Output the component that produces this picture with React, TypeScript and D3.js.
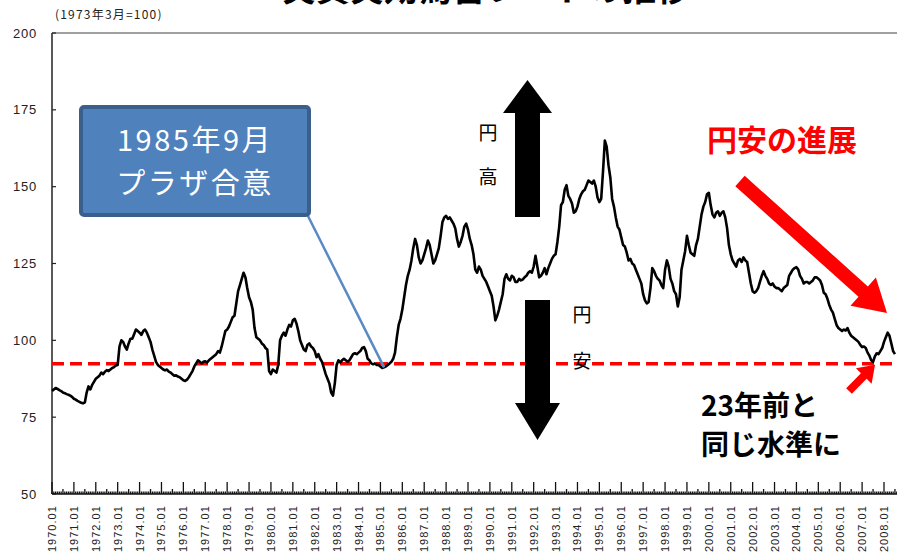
import React from "react";
import * as d3 from "d3";

// Real effective exchange rate of the yen, monthly, 1973.03 = 100
const values1970s = [
  83.5, 84, 84.5, 84.2, 83.8, 83.5, 83, 82.8, 82.5, 82.3, 82, 81.6,
  81, 80.7, 80.3, 80, 79.7, 79.5, 79.8, 83, 85, 84, 85.5, 86.5,
  87.5, 88, 88.5, 89.5, 89, 89.8, 90.3, 90, 90.5, 91, 91.3, 91.8,
  92, 98, 100, 99.5, 98, 97, 99, 100.5, 100.5, 102, 103.5, 103,
  102.5, 101.8, 103, 103.5, 102.5, 101, 99.5, 97, 95, 93, 92, 91.5,
  91, 90.5, 90.2, 90.5, 89.8, 89.5, 89, 88.5, 88.6, 88.2, 88, 87.5,
  87, 86.8, 87.2, 88, 89, 90, 91.5, 92.5, 93.5, 93, 92.5, 93,
  93.2, 92.8, 93.5, 94, 94.5, 95, 95.5, 96.5, 96, 98, 100.5, 103,
  103.5, 104.5, 106, 107.5, 108, 112, 116, 118, 120, 122, 120.5, 117,
  114, 112.5, 110, 104, 101, 100.5, 100, 99, 98.5, 97.5, 97, 90,
];
const values1980s = [
  89, 90.5, 90, 89.5, 92, 100, 101.5, 102.5, 101.5, 103.5, 105, 104.5,
  106.5, 107, 105.5, 103, 100, 98.5, 97, 96.5, 98.5, 99, 98, 97.5,
  96.5, 94.5, 95.5, 94, 93, 91, 89, 87.5, 86, 83, 82, 86,
  92, 93.5, 92.8, 93.5, 94, 93.5, 93, 93.5, 94.5, 95.5, 95.8, 95.5,
  96, 96.5, 97.5, 97.8, 96.5, 94, 93.5, 92.5, 92.2, 92.5, 92, 92,
  91.5, 91, 91.2, 91.5, 92, 92.5, 93, 94, 96, 101, 105, 107,
  110, 114, 118, 121, 123, 126, 130, 133, 131, 127, 125, 126,
  128, 130, 132.5, 131, 128, 125, 126, 128, 130, 134, 138.5, 140,
  140.5, 139.5, 140, 139, 138, 136.5, 133, 130.5, 132, 134, 137, 138,
  136, 133, 131, 128, 123, 122, 124, 123, 121, 120, 119, 117.5,
];
const values1990s = [
  116, 114.5, 111, 106.5, 108, 110, 112.5, 115, 120, 121.5, 120, 119.5,
  121, 120.5, 119, 119, 120, 119.5, 119.8, 120.5, 121, 122, 122.5, 122,
  124, 127.5, 124, 120.5, 121, 122, 123.5, 121.5, 123.5, 125, 126.5, 127.5,
  128, 132, 137, 144, 145, 149, 150.5, 147, 146, 144.5, 141.5, 142,
  143.5, 146, 147.5, 148.5, 149, 150.5, 152, 151.5, 151, 152, 150, 146.5,
  145, 146, 155, 165, 163, 157, 153, 146, 143.5, 140, 137, 136,
  133.5, 131, 130.5, 128.5, 126, 126.5, 125, 124.5, 123, 121.5, 120, 118.5,
  115, 113, 112, 112.5, 117, 123.5, 122.5, 121, 120, 119.5, 118, 117,
  123, 126, 124, 120, 118.5, 116, 115, 111, 114, 123, 126, 129,
  134, 131, 128.5, 128, 127.5, 131, 133, 137, 141, 143.5, 145, 147.5,
];
const values2000s = [
  148, 144, 141, 140, 141.5, 142, 140.5, 141.5, 142, 140, 136.5, 131,
  128, 126, 125, 124, 126, 126.5, 125.5, 127, 126, 125.5, 122, 118.5,
  116, 115.5, 116, 117, 119, 121, 122.5, 121, 120, 118.5, 118, 118.5,
  117.5, 117, 117, 116.5, 116, 117, 117.5, 118, 121, 122, 123, 123.5,
  123.8, 123, 121, 120, 118.5, 119, 119, 118.5, 119, 119.5, 120.5, 120.5,
  120, 119.5, 118, 115.5, 115, 113.5, 111.5, 110, 109, 107, 105, 104,
  103.5, 103, 103.5, 103.2, 104, 102.5, 101.5, 101, 100.5, 100, 99.5, 98.5,
  97.8, 98, 97.5, 96, 95, 93.5, 93, 94.8, 95.8, 95.5, 96.5, 97.5,
  99.5, 101, 102.5, 101.5, 99, 96.5, 95.5,
];

const startYear = 1970;
const yearLabels = d3.range(1970, 2009).map((y) => `${y}.01`);
const yTicks = [50, 75, 100, 125, 150, 175, 200];
const referenceLevel = 92.4;

const titleText = "実質実効為替レートの推移";
const unitText = "(1973年3月=100)";
const plazaLines = ["1985年9月", "プラザ合意"];
const plazaMonth = 1985 * 12 + 2; // curve touch point used by callout
const depreciationText = "円安の進展";
const sameLevelLines = ["23年前と", "同じ水準に"];
const upLabel = ["円", "高"];
const downLabel = ["円", "安"];

const series = [...values1970s, ...values1980s, ...values1990s, ...values2000s];

const fontJP = "'Noto Sans CJK JP', 'Noto Sans', sans-serif";
const fontSans = "'Liberation Sans', Arial, sans-serif";

function arrowPoints(x1: number, y1: number, x2: number, y2: number, shaftW: number, headW: number, headL: number) {
  const dx = x2 - x1;
  const dy = y2 - y1;
  const len = Math.hypot(dx, dy);
  const ux = dx / len;
  const uy = dy / len;
  const px = -uy;
  const py = ux;
  const bx = x2 - ux * headL;
  const by = y2 - uy * headL;
  const pts = [
    [x1 + px * shaftW / 2, y1 + py * shaftW / 2],
    [bx + px * shaftW / 2, by + py * shaftW / 2],
    [bx + px * headW / 2, by + py * headW / 2],
    [x2, y2],
    [bx - px * headW / 2, by - py * headW / 2],
    [bx - px * shaftW / 2, by - py * shaftW / 2],
    [x1 - px * shaftW / 2, y1 - py * shaftW / 2],
  ];
  return pts.map((p) => p.join(",")).join(" ");
}

export default function App() {
  const W = 897;
  const H = 555;
  const left = 52;
  const top = 33;
  const bottom = 494;

  const x = d3.scaleLinear().domain([0, 456]).range([left, 884]);
  const y = d3.scaleLinear().domain([50, 200]).range([bottom, top]);

  const line = d3
    .line<number>()
    .x((_, i) => x(i))
    .y((d) => y(d));

  const monthTicks = d3.range(0, series.length + 1);

  const plazaIdx = plazaMonth - startYear * 12;
  const plazaX = x(plazaIdx);
  const plazaY = y(series[plazaIdx]);

  const refY = y(referenceLevel);

  // minimum in 2007 for the small arrow
  const minIdx = d3.minIndex(series.slice(444), (d) => d) + 444;

  return (
    <svg width={W} height={H} style={{ position: "absolute", left: 0, top: 0, background: "#fff" }}>
      <rect x={0} y={0} width={W} height={H} fill="#fff" />
      {/* title (clipped at top) */}
      <text x={282} y={1} fontFamily={fontJP} fontWeight="bold" fontSize={34} fill="#000">
        {titleText}
      </text>
      <text x={55} y={19} fontFamily={fontJP} fontSize={12} letterSpacing={1.2} fill="#222">
        {unitText}
      </text>

      {/* frame */}
      <line x1={left} x2={W} y1={top} y2={top} stroke="#a0a0a0" strokeWidth={2} />
      <line x1={left} x2={left} y1={top} y2={bottom} stroke="#222" strokeWidth={1.5} />
      <line x1={left} x2={W} y1={bottom} y2={bottom} stroke="#111" strokeWidth={1.5} />

      {/* y ticks */}
      {yTicks.map((t) => (
        <g key={t}>
          <line x1={left} x2={left + 4} y1={y(t)} y2={y(t)} stroke="#222" strokeWidth={1.2} />
          <text x={37} y={y(t)} dy="0.35em" textAnchor="end" fontFamily={fontSans} fontSize={13} letterSpacing={0.8} fill="#222">
            {t}
          </text>
        </g>
      ))}

      {/* x minor/major ticks */}
      {monthTicks.map((m) => {
        const len = m % 12 === 0 ? 12 : m % 6 === 0 ? 5 : 2.5;
        return (
          <line key={m} x1={x(m)} x2={x(m)} y1={bottom} y2={bottom - len} stroke="#111" strokeWidth={1.3} />
        );
      })}
      {yearLabels.map((lab, i) => (
        <text
          key={lab}
          transform={`translate(${x(i * 12) + 4},${552}) rotate(-90)`}
          fontFamily={fontSans}
          fontSize={11}
          letterSpacing={1}
          fill="#222"
        >
          {lab}
        </text>
      ))}

      {/* reference dashed line */}
      <line x1={left} x2={W} y1={refY} y2={refY} stroke="#ff0000" strokeWidth={3.5} strokeDasharray="12,6" />

      {/* series */}
      <path d={line(series) ?? ""} fill="none" stroke="#000" strokeWidth={2.6} strokeLinejoin="round" />

      {/* Plaza callout */}
      <line x1={307} y1={214} x2={plazaX} y2={plazaY} stroke="#5a8ac6" strokeWidth={2.5} />
      <rect x={81} y={107} width={228} height={108} rx={3} fill="#4f81bd" stroke="#3a5f8b" strokeWidth={4} />
      {plazaLines.map((t, i) => (
        <text key={t} x={195} y={151 + i * 43} textAnchor="middle" fontFamily={fontJP} fontSize={29} letterSpacing={2.5} fill="#fff">
          {t}
        </text>
      ))}

      {/* black arrows */}
      <polygon points={arrowPoints(527.5, 217, 527.5, 80, 25, 49, 33)} fill="#000" />
      <polygon points={arrowPoints(537.5, 300, 537.5, 440, 25, 45, 37)} fill="#000" />
      {upLabel.map((t, i) => (
        <text key={"u" + i} x={488} y={140 + i * 44} textAnchor="middle" fontFamily={fontJP} fontSize={19} fill="#000">
          {t}
        </text>
      ))}
      {downLabel.map((t, i) => (
        <text key={"d" + i} x={582} y={322 + i * 46} textAnchor="middle" fontFamily={fontJP} fontSize={19} fill="#000">
          {t}
        </text>
      ))}

      {/* red annotation */}
      <text x={782} y={151} textAnchor="middle" fontFamily={fontJP} fontWeight="bold" fontSize={30} fill="#ff0000">
        {depreciationText}
      </text>
      <polygon points={arrowPoints(740, 181, 887, 313, 14, 38, 32)} fill="#ff0000" />
      <polygon points={arrowPoints(849, 391, x(minIdx) + 2, refY + 1, 8, 22, 16)} fill="#ff0000" />

      {sameLevelLines.map((t, i) => (
        <text key={t} x={701} y={416 + i * 39} fontFamily={fontJP} fontWeight="bold" fontSize={28} fill="#000">
          {t}
        </text>
      ))}
    </svg>
  );
}
